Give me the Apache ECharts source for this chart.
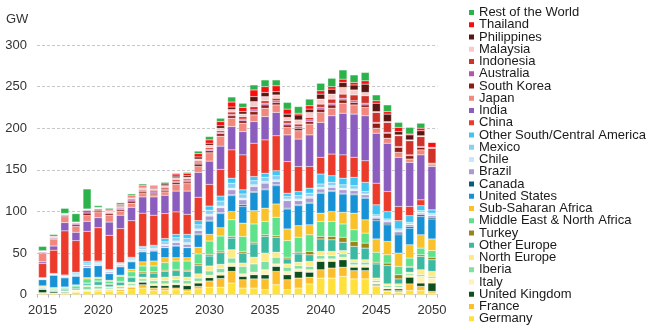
<!DOCTYPE html>
<html><head><meta charset="utf-8">
<script src="https://cdn.jsdelivr.net/npm/echarts@6/dist/echarts.min.js"></script>
<style>html,body{margin:0;padding:0;background:#fff}#c{width:649px;height:330px}</style>
</head><body><div id="c"></div>
<script>
const years = [];
for (let y = 2015; y <= 2050; y++) years.push(String(y));
const yTicks = [0, 50, 100, 150, 200, 250, 300];

const germany = [1.5,1.5,1.8,3,4,4,4,4,6,8, 5,5,6,4,7,9,9,14,8,8, 6,12,6,8,13,20,20,22,19,19, 10,4,3,5,5,2];
const france = [1,0.6,0.9,1,1,1.5,1.5,2,3,4, 3,3,2,2,3,7.5,10.5,14,10,11, 13,16,12,12,8,10,12,11,10,10, 2,1,2,8,5,2];
const unitedKingdom = [4,2,0.9,0.3,0.3,0.5,0.5,0.5,0.5,3, 3,3,4,5,4,4,4,6,4,5, 5,6,6,8,6,10,8,9,4,4, 1,2,2,8,4,10];
const italy = [0.3,0.4,0.4,0.4,0.7,1,1,1,1.5,1.5, 2,2,2,2,2,3,3,4,3,3, 6,3,4,3,3,3,3,3,3,3, 2,2,2,2,8,6];
const iberia = [0.2,0.1,0.1,0.3,4,3,1.5,2,2,2.5, 4,4,4,4,4,5,5,6,9,10, 10,8,5,4,4,4,4,4,3,3, 2,2,2,2,2,2];
const northEurope = [0.5,0.5,0.5,0.8,1,1.5,1,1.5,2,2, 3,4,4,4,5,6,5,10,4,8, 10,6,4,4,6,5,5,4,3,3, 3,2,2,2,6,6];
const otherEurope = [1,1.2,1.5,2,2,4,3,4,5.5,5, 6,7,7,7,10,12,14,14,12,16, 20,18,6,10,8,15,14,10,16,14, 17,22,6,6,16,14];
const turkey = [0.3,0.5,1,1.5,1,1,0.8,1,1,1.5, 1.5,1.5,1.5,1.5,2,2,2,2,2,2, 2,2,2,2,4,3,4,6,6,6, 2,3,5,1,2,3];
const mena = [1,1,1.2,1.5,5,3,3,6,6,7, 7,9,10,11,12,16,18,20,18,22, 16,22,20,18,20,18,18,16,14,12, 12,10,10,10,8,8];
const subSaharan = [0.8,0.8,1,1,1.5,1.5,1,1.5,3,5, 6,6,4,4,8,8,10,10,16,16, 16,16,14,14,12,10,12,14,20,16, 16,16,16,16,16,14];
const unitedStates = [7.5,15,11,10.5,12,14,8,10,9,12, 12,12,14,12,15,16,17,19,20,22, 22,22,24,24,26,24,24,22,22,26, 22,20,22,20,22,24];
const canada = [0.5,0.2,0.2,0.2,0.3,0.5,0.5,0.5,0.5,0.5, 0.5,0.5,0.5,0.5,1,1,1,1,2,1, 1,1,1,1,1,1,1,1,1,1, 2,2,2,2,2,2];
const brazil = [0.2,0.1,1,1,2,1,1.5,1.5,1,1.5, 1.5,2,3.5,3.5,4,5,6,6,6,6, 7,4,9,5,5,4,4,4,4,3, 2,2,2,2,2,2];
const chile = [1,0.8,0.7,0.5,0.8,1,1,1,1,1, 1,1.5,2,2,2,2,2,2,2,2, 2,2,2,2,2,2,2,2,2,1, 1,1,1,1,1,1];
const mexico = [0.2,0.2,0.5,2,2.5,1.5,1,1,1.5,2, 2,3,4,5,5,5,6,6,5,5, 5,5,3,4,4,4,4,4,4,3, 2,2,2,2,2,2];
const otherSCAmerica = [0.5,0.6,1,1,2,1.5,1,1,1.5,1.5, 2,4,4,5,5,5,6,6,5,5, 5,6,4,5,6,12,8,8,10,11, 12,9,10,8,6,4];
const china = [17,28,53,38,36,40,41,41,44,40, 36,30,27,24,28,26,32,34,42,40, 40,42,38,30,26,20,26,28,24,26, 26,24,17,11,7,0];
const india = [2,5,10,10,12,12,16,16,16,19.5, 22,22,25,28,30,28,28,28,28,26, 28,28,32,33,38,42,46,50,52,54, 60,58,59,53,54,52];
const japan = [10,8,7,7,7,7,8,5,5,4, 2.5,4,8,9,7,10,12,10,10,8, 10,9,9,10,13,12,9,12,11,10, 6,6,6,4,6,2];
const southKorea = [1,1,1.2,2,3,2,2,2,2.5,2, 2,2,2.5,2,3,2.5,3,3,3,4, 4,3,3,3,3,4,4,4,3,3, 6,6,6,4,3,1];
const australia = [1,1,1.2,2,3.5,1.5,1.5,1.5,1.5,1.5, 1.5,1.5,1.5,1.5,1.5,1.5,1.5,1.5,2,2, 2,2,2,2,2,2,2,2,2,2, 1,1,1,1,1,1];
const indonesia = [0.2,0.2,0.2,0.2,0.2,0.5,0.5,1,1.5,1.5, 2,2,2,2,2,2,2,3,3,4, 3,3,3,3,3,4,5,5,7,9, 12,12,13,17,12,18];
const malaysia = [0.3,0.3,0.4,0.4,0.5,0.5,1,1,1,2, 2,2,2,2,2.5,3,3,3,3,6, 5,4,4,5,6,6,6,8,6,4, 1,1,1,1,1,0.5];
const philippines = [0.3,0.8,0.5,0.3,0.3,0.5,0.5,1,1,1, 1.5,2,2,2,2.5,2.5,3,3,3,6, 5,4,4,6,4,6,6,6,6,10, 10,9,4,6,6,0.5];
const thailand = [0.7,0.5,0.5,0.4,0.4,0.5,1,1.5,1.5,1.5, 1.5,1.5,2.5,3,4,4,5,6,5,8, 7,7,6,2,4,4,3,4,3,4, 3,3,5,1,3,6];
const restOfWorld = [5,2,6,10,24,2,2,2,2,2, 1,1,1,1,3,4,4,6,5,6, 8,7,8,8,8,9,10,11,9,10, 7,8,6,8,6,0];

// stack order bottom -> top
const seriesNames = ['Germany','France','United Kingdom','Italy','Iberia','North Europe','Other Europe','Turkey',
  'Middle East & North Africa','Sub-Saharan Africa','United States','Canada','Brazil','Chile','Mexico',
  'Other South/Central America','China','India','Japan','South Korea','Australia','Indonesia','Malaysia',
  'Philippines','Thailand','Rest of the World'];
const seriesData = [germany,france,unitedKingdom,italy,iberia,northEurope,otherEurope,turkey,mena,subSaharan,
  unitedStates,canada,brazil,chile,mexico,otherSCAmerica,china,india,japan,southKorea,australia,indonesia,
  malaysia,philippines,thailand,restOfWorld];

const palette = {
  'Germany':'#FFE13A','France':'#FBBE2C','United Kingdom':'#0E4F1F','Italy':'#FFF2B5','Iberia':'#80DFA2',
  'North Europe':'#FFEB85','Other Europe':'#3CB9A3','Turkey':'#9A8514','Middle East & North Africa':'#5EE28B',
  'Sub-Saharan Africa':'#F9C22B','United States':'#1892D6','Canada':'#0B5B7D','Brazil':'#A99AD2',
  'Chile':'#C6E8F8','Mexico':'#88CFF1','Other South/Central America':'#40C5F3','China':'#EC3A2B',
  'India':'#8A5DBE','Japan':'#F2877D','South Korea':'#8E1C15','Australia':'#B456A8','Indonesia':'#CF322B',
  'Malaysia':'#F8CACA','Philippines':'#5A1611','Thailand':'#FA0D0D','Rest of the World':'#2BB24B'
};

const FONT = "'Liberation Sans', Arial, Helvetica, sans-serif";
const chart = echarts.init(document.getElementById('c'), null, {renderer: 'canvas'});
chart.setOption({
  animation: false,
  textStyle: {fontFamily: FONT},
  title: {text: 'GW', left: 6, top: 13, padding: 0, textStyle: {fontSize: 13, fontWeight: 'normal', color: '#333', fontFamily: FONT}},
  grid: {left: 37, right: 211.5, top: 45, bottom: 35.3},
  legend: {
    orient: 'vertical', left: 467, top: 6, padding: 0,
    itemWidth: 7, itemHeight: 7, itemGap: -0.75, icon: 'rect',
    data: seriesNames.slice().reverse(),
    textStyle: {fontSize: 13, color: '#1a1a1a', fontFamily: FONT, padding: [0,0,0,-1]}
  },
  xAxis: {
    type: 'category', data: years,
    axisLine: {lineStyle: {color: '#ccc'}},
    axisTick: {show: true, interval: 0, length: 3, lineStyle: {color: '#bbb'}},
    axisLabel: {interval: 4, fontSize: 13, color: '#333', margin: 9, fontFamily: FONT}
  },
  yAxis: {
    type: 'value', min: yTicks[0], max: yTicks[yTicks.length-1], interval: 50,
    axisLine: {show: false}, axisTick: {show: false},
    axisLabel: {fontSize: 13, color: '#333', margin: 10, fontFamily: FONT},
    splitLine: {lineStyle: {color: '#c8c8c8', type: [3, 2]}}
  },
  series: seriesNames.map((n, i) => ({
    name: n, type: 'bar', stack: 'total', barWidth: 8,
    data: seriesData[i],
    itemStyle: {color: palette[n], borderColor: '#fff', borderWidth: 0.3},
    emphasis: {disabled: true}
  }))
});
</script></body></html>
